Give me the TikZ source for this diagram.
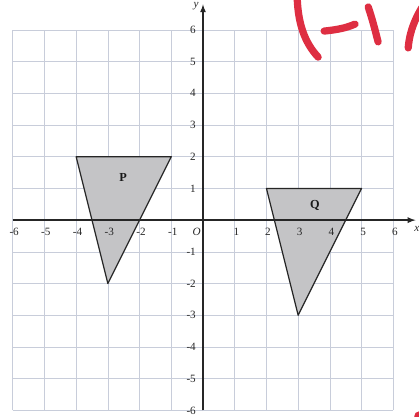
\documentclass[tikz,border=0pt]{standalone}
\usepackage{fontspec}
\setmainfont{Liberation Serif}
\begin{document}
\begin{tikzpicture}[x=1cm,y=1cm,
  gridline/.style={draw=gridcol,line width=0.5pt},
  axisline/.style={draw=black!85,line width=1.4pt},
  triag/.style={fill=shapefill,draw=black!85,line width=1.1pt,line join=round},
  ticklab/.style={font=\fontsize{10}{12}\selectfont,text=black!85,inner sep=0pt},
  shapelab/.style={font=\fontsize{11}{13}\selectfont\bfseries,text=black!90},
  redpen/.style={draw=penred,line width=6.5pt,line cap=round}]
\definecolor{gridcol}{RGB}{200,205,218}
\definecolor{shapefill}{RGB}{196,196,198}
\definecolor{penred}{RGB}{222,46,66}
\useasboundingbox (-6.40,-6.18) rectangle (6.81,6.94);
% grid
\foreach \i in {-6,...,6} {
  \draw[gridline] (\i,-6) -- (\i,6);
  \draw[gridline] (-6,\i) -- (6,\i);
}
% triangles
\coordinate (P1) at (-4,2); \coordinate (P2) at (-1,2); \coordinate (P3) at (-3,-2);
\coordinate (Q1) at (2,1); \coordinate (Q2) at (5,1); \coordinate (Q3) at (3,-3);
\path[triag] (P1) -- (P2) -- (P3) -- cycle;
\path[triag] (Q1) -- (Q2) -- (Q3) -- cycle;
% axes
\coordinate (xs) at (-6,0); \coordinate (xe) at (6.7,0);
\coordinate (ys) at (0,-6); \coordinate (ye) at (0,6.8);
\draw[axisline,-latex] (xs) -- (xe);
\draw[axisline,-latex] (ys) -- (ye);
\node[ticklab,anchor=west] (xl) at (6.66,-0.27) {\itshape x};
\node[ticklab] (yl) at (-0.22,6.74) {\itshape y};
\node[ticklab] (o) at (-0.2,-0.38) {\itshape O};
% tick labels
\foreach \v in {-6,...,-1} {
  \node[ticklab,anchor=east] (xn\v) at (\v+0.2,-0.38) {-\the\numexpr-\v\relax};
}
\foreach \v in {1,...,6} {
  \node[ticklab] (xp\v) at (\v+0.05,-0.38) {\v};
}
\foreach \v in {1,...,6} {
  \node[ticklab,anchor=east] (yp\v) at (-0.22,\v) {\v};
}
\foreach \v in {-6,...,-1} {
  \node[ticklab,anchor=east] (yn\v) at (-0.22,\v) {-\the\numexpr-\v\relax};
}
\node[shapelab] (P) at (-2.52,1.36) {P};
\node[shapelab] (Q) at (3.53,0.47) {Q};
% red handwriting
\draw[redpen] (2.97,7.0) .. controls (3.0,6.2) and (3.2,5.6) .. (3.63,5.14);
\draw[redpen] (3.82,5.96) .. controls (4.2,6.0) and (4.5,6.05) .. (4.79,6.18);
\draw[redpen] (5.21,6.72) .. controls (5.35,6.3) and (5.45,5.9) .. (5.52,5.62);
\draw[redpen] (6.9,6.7) .. controls (6.6,6.2) and (6.5,5.8) .. (6.47,5.43);
\fill[penred] (6.81,-6.18) circle (0.15);
\end{tikzpicture}
\end{document}
